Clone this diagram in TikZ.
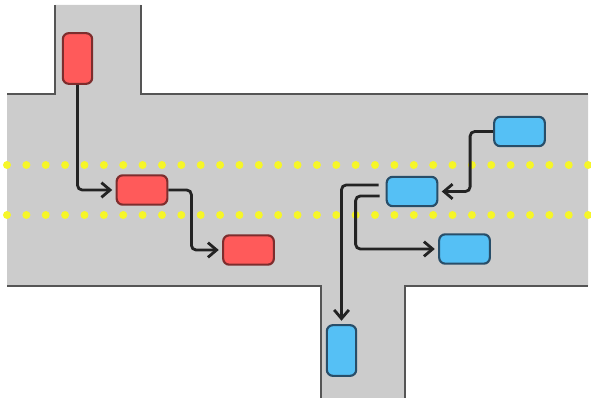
\documentclass[tikz,border=0pt]{standalone}
\usetikzlibrary{arrows.meta}
\definecolor{roadgray}{RGB}{204,204,204}
\definecolor{roadedge}{RGB}{85,85,85}
\definecolor{laneyellow}{RGB}{246,246,40}
\definecolor{carred}{RGB}{255,90,90}
\definecolor{carredline}{RGB}{125,45,45}
\definecolor{carblue}{RGB}{85,192,245}
\definecolor{carblueline}{RGB}{40,78,105}
\definecolor{movedark}{RGB}{35,35,35}
\tikzset{every picture/.style={line width=0.75pt}}
\tikzset{
  car/.style={draw, rounded corners=4.5pt, line width=1.6pt, minimum width=38pt, minimum height=22pt, inner sep=0pt},
  carv/.style={car, minimum width=22pt, minimum height=38pt},
  redcar/.style={fill=carred, draw=carredline},
  bluecar/.style={fill=carblue, draw=carblueline},
  move/.style={draw=movedark, line width=2.1pt, rounded corners=3.5pt, -{Straight Barb[length=6.5pt,width=11pt]}, shorten >=2.5pt},
  edge/.style={draw=roadedge, line width=1.2pt},
}

\begin{document}
\begin{tikzpicture}[x=0.75pt,y=0.75pt,yscale=-1,xscale=1]
\useasboundingbox (0,0) rectangle (591,398);

% road
\fill [roadgray] (7,94) -- (55,94) -- (55,5) -- (141,5) -- (141,94) -- (588,94) -- (588,286) -- (405,286) -- (405,398) -- (321,398) -- (321,286) -- (7,286) -- cycle;
\draw [edge] (7,94) -- (55,94) -- (55,5);
\draw [edge] (141,5) -- (141,94) -- (588,94);
\draw [edge] (7,286) -- (321,286) -- (321,398);
\draw [edge] (405,398) -- (405,286) -- (588,286);

% lane marks
\foreach \i in {0,...,30} {
  \fill [laneyellow] (7+\i*19.37,165) circle [radius=4];
  \fill [laneyellow] (7+\i*19.37,215) circle [radius=4];
}

% cars
\node [carv, redcar] (r1) at (77.5,58.5) {};
\node [car, redcar] (r2) at (142,190) {};
\node [car, redcar] (r3) at (248.5,250) {};
\node [car, bluecar] (bA) at (519.5,131.5) {};
\node [car, bluecar] (bB) at (412,191.5) {};
\node [car, bluecar] (bC) at (464.5,249) {};
\node [carv, bluecar] (bD) at (341.5,350.5) {};

% moves
\draw [move] (r1.south) |- (r2.west);
\draw [move] (r2.east) -- ++(23,0) |- (r3.west);
\draw [move] (bA.west) -- ++(-23,0) |- (bB.east);
\draw [move] (bB.west) ++(-7,-6.5) -| (bD.north);
\draw [move] (bB.west) ++(-6,4.5) -- ++(-24,0) |- (bC.west);

\end{tikzpicture}
\end{document}
